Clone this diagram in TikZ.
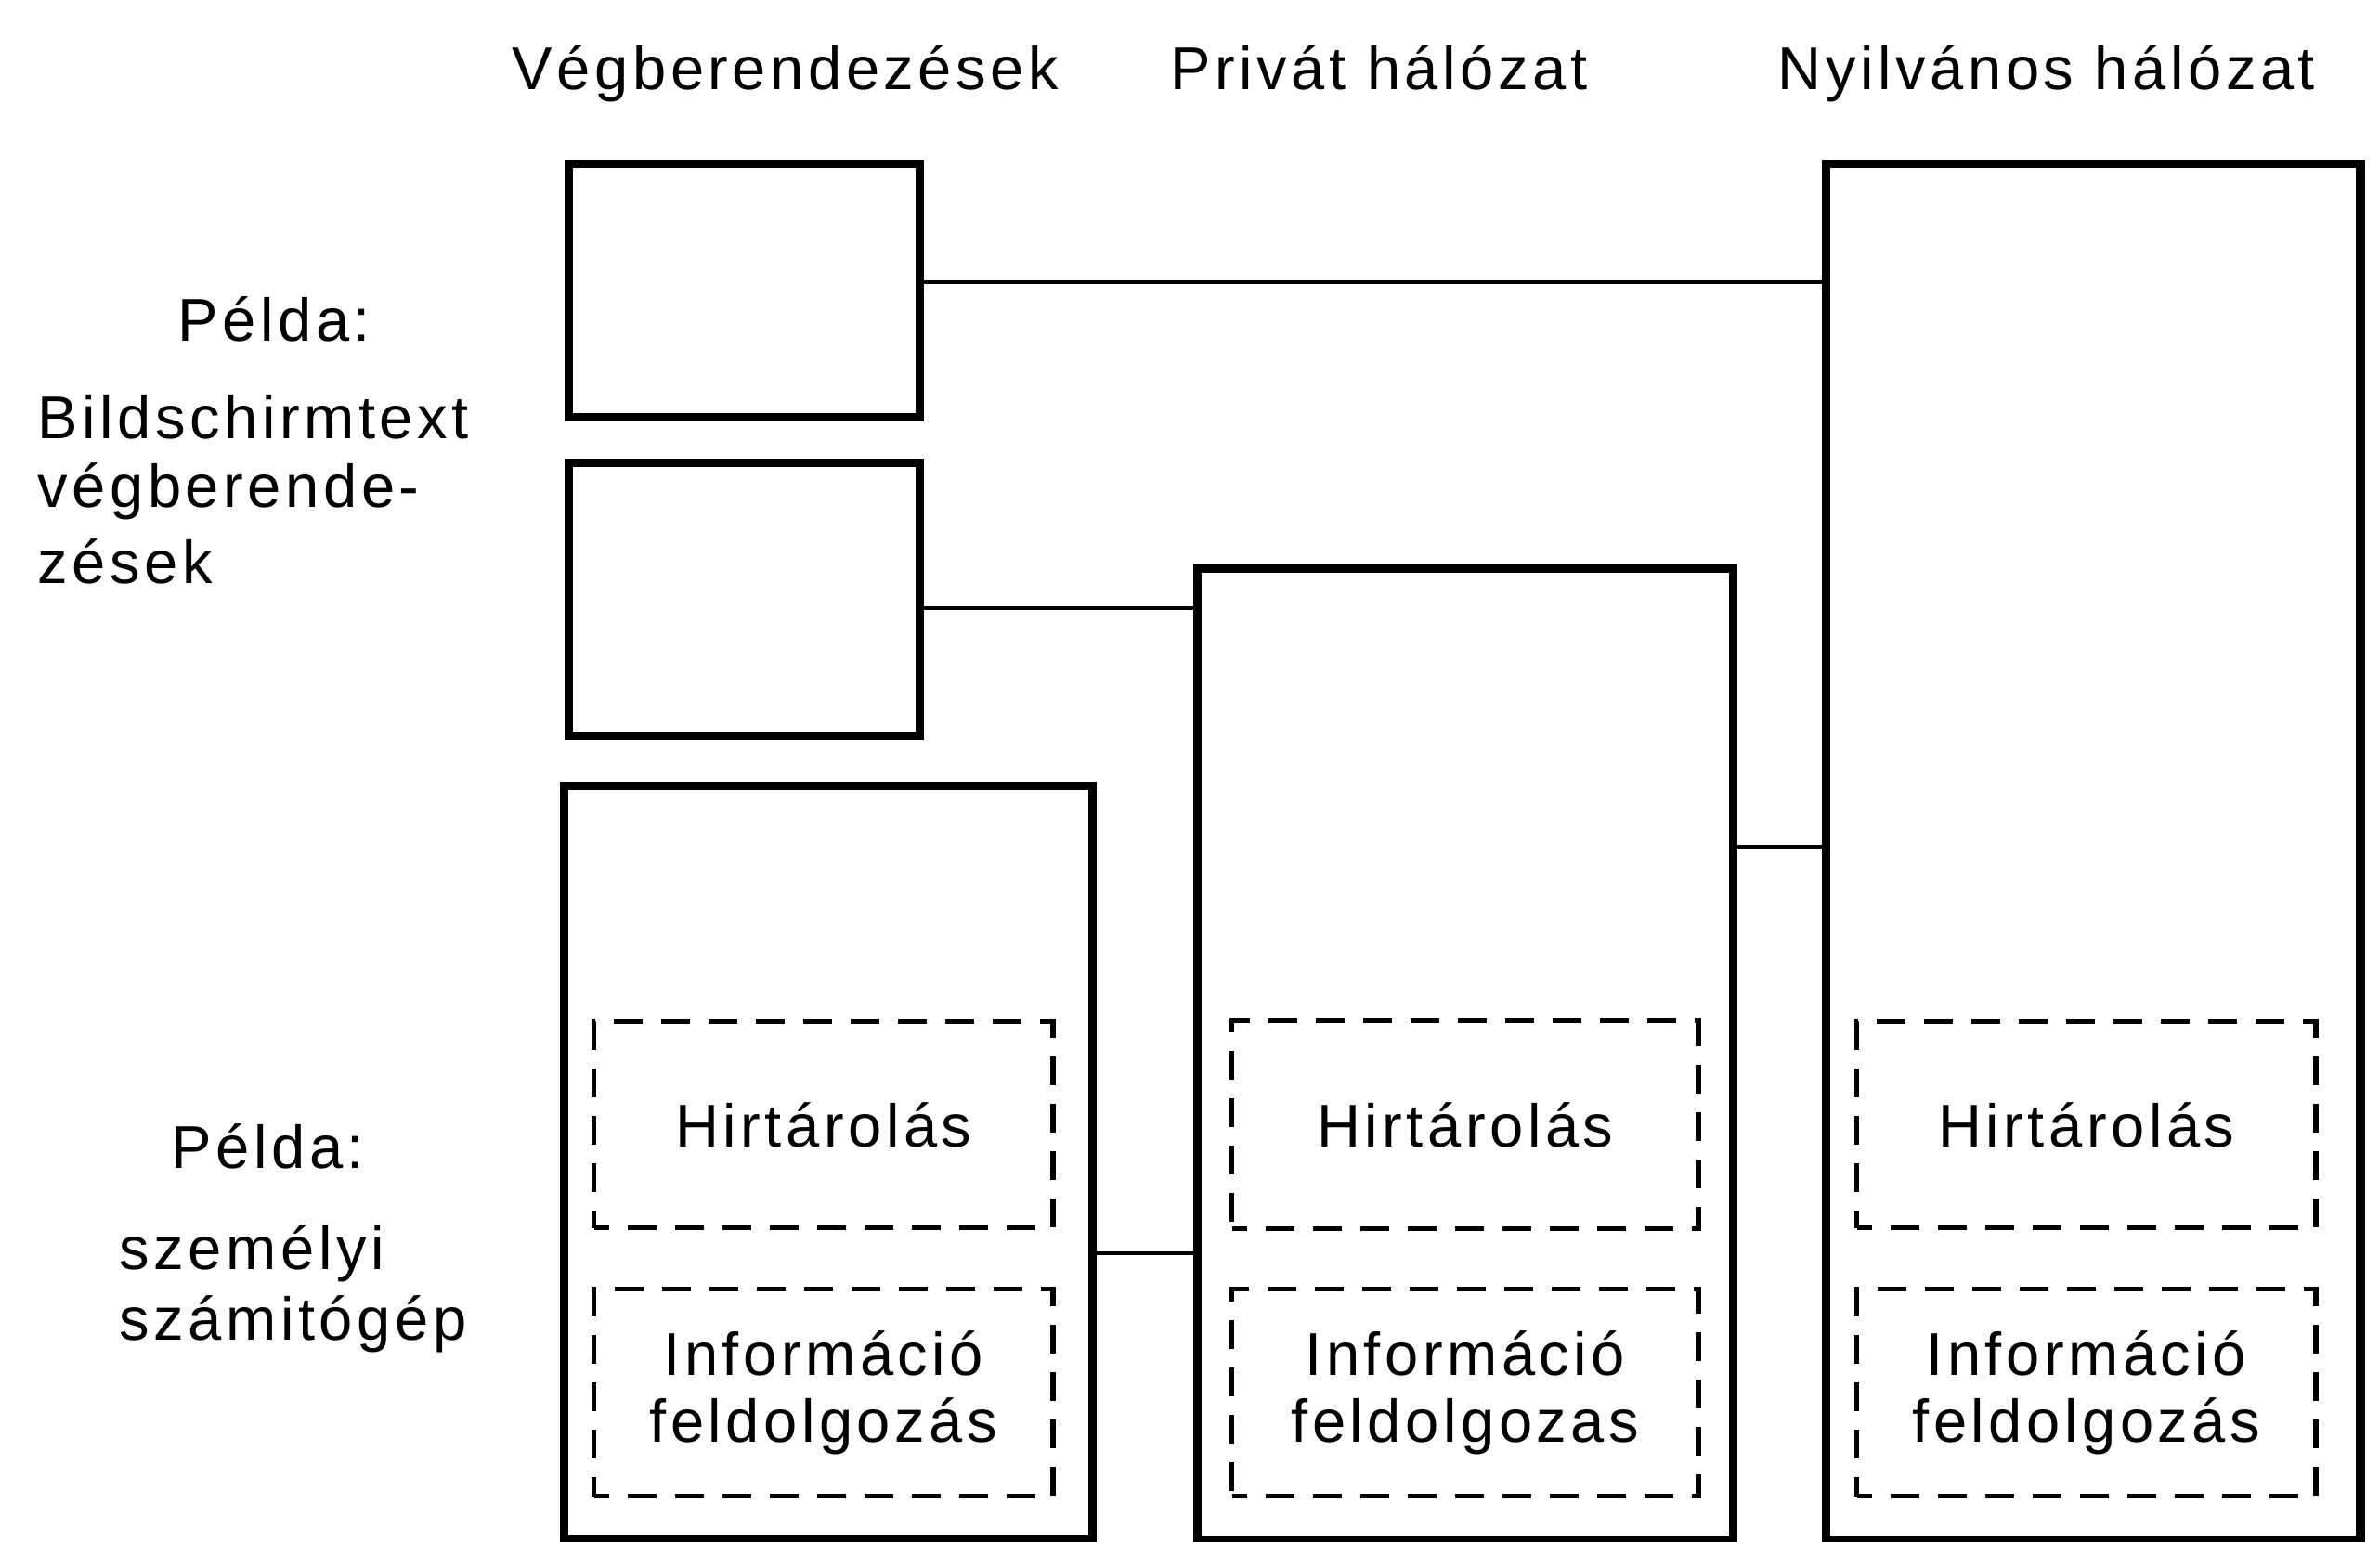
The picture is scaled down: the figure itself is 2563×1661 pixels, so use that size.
\documentclass[tikz,border=0pt]{standalone}
\usepackage{fontspec}
\setmainfont{Liberation Sans}[LetterSpace=7]
\begin{document}
\begin{tikzpicture}[x=0.01cm,y=-0.01cm,
  tbox/.style={draw, line width=2.6pt, inner sep=0pt, anchor=north west},
  dbox/.style={draw, line width=1.5pt, inner sep=0pt, anchor=north west, align=center,
     dash pattern=on 0.31cm off 0.2cm, dash phase=0.15cm,
     font=\fontsize{18.5}{20.5}\selectfont},
  conn/.style={line width=1.3pt},
  lbl/.style={inner sep=0pt, font=\fontsize{18.5}{22}\selectfont}]
\useasboundingbox (0,0) rectangle (2563,1661);
% headers
\node[lbl, anchor=base] (h1) at (846,97) {Végberendezések};
\node[lbl, anchor=base] (h2) at (1485,97) {Privát hálózat};
\node[lbl, anchor=base] (h3) at (2204,97) {Nyilvános hálózat};
% left labels
\node[lbl, anchor=base west] (p1) at (191,368) {Példa:};
\node[lbl, anchor=base west] (l1) at (40,473) {Bildschirmtext};
\node[lbl, anchor=base west] (l2) at (40,547) {végberende-};
\node[lbl, anchor=base west] (l3) at (40,628) {zések};
\node[lbl, anchor=base west] (p2) at (184,1258) {Példa:};
\node[lbl, anchor=base west] (l4) at (128,1367) {személyi};
\node[lbl, anchor=base west] (l5) at (128,1443) {számitógép};
% main boxes
\node[tbox, minimum width=3.78cm, minimum height=2.73cm] (A) at (608,172) {};
\node[tbox, minimum width=3.78cm, minimum height=2.94cm] (B) at (608,494) {};
\node[tbox, minimum width=5.69cm, minimum height=8.11cm] (C) at (603,842) {};
\node[tbox, minimum width=5.77cm, minimum height=10.45cm] (D) at (1285,608) {};
\node[tbox, minimum width=5.75cm, minimum height=14.81cm] (E) at (1962,172) {};
% dashed inner boxes
\node[dbox, minimum width=4.94cm, minimum height=2.22cm] (C1) at (637,1098) {Hirtárolás};
\node[dbox, minimum width=4.94cm, minimum height=2.23cm] (C2) at (637,1386) {Információ\\feldolgozás};
\node[dbox, minimum width=5.02cm, minimum height=2.24cm] (D1) at (1324,1097) {Hirtárolás};
\node[dbox, minimum width=5.02cm, minimum height=2.23cm] (D2) at (1324,1386) {Információ\\feldolgozas};
\node[dbox, minimum width=4.94cm, minimum height=2.22cm] (E1) at (1997,1098) {Hirtárolás};
\node[dbox, minimum width=4.94cm, minimum height=2.23cm] (E2) at (1997,1386) {Információ\\feldolgozás};
% connector levels
\coordinate (yae) at (1000,304);
\coordinate (ybd) at (1000,655);
\coordinate (yde) at (1000,912);
\coordinate (ycd) at (1000,1350);
\draw[conn] (yae -| A.east) -- (yae -| E.west);
\draw[conn] (ybd -| B.east) -- (ybd -| D.west);
\draw[conn] (yde -| D.east) -- (yde -| E.west);
\draw[conn] (ycd -| C.east) -- (ycd -| D.west);
\end{tikzpicture}
\end{document}
